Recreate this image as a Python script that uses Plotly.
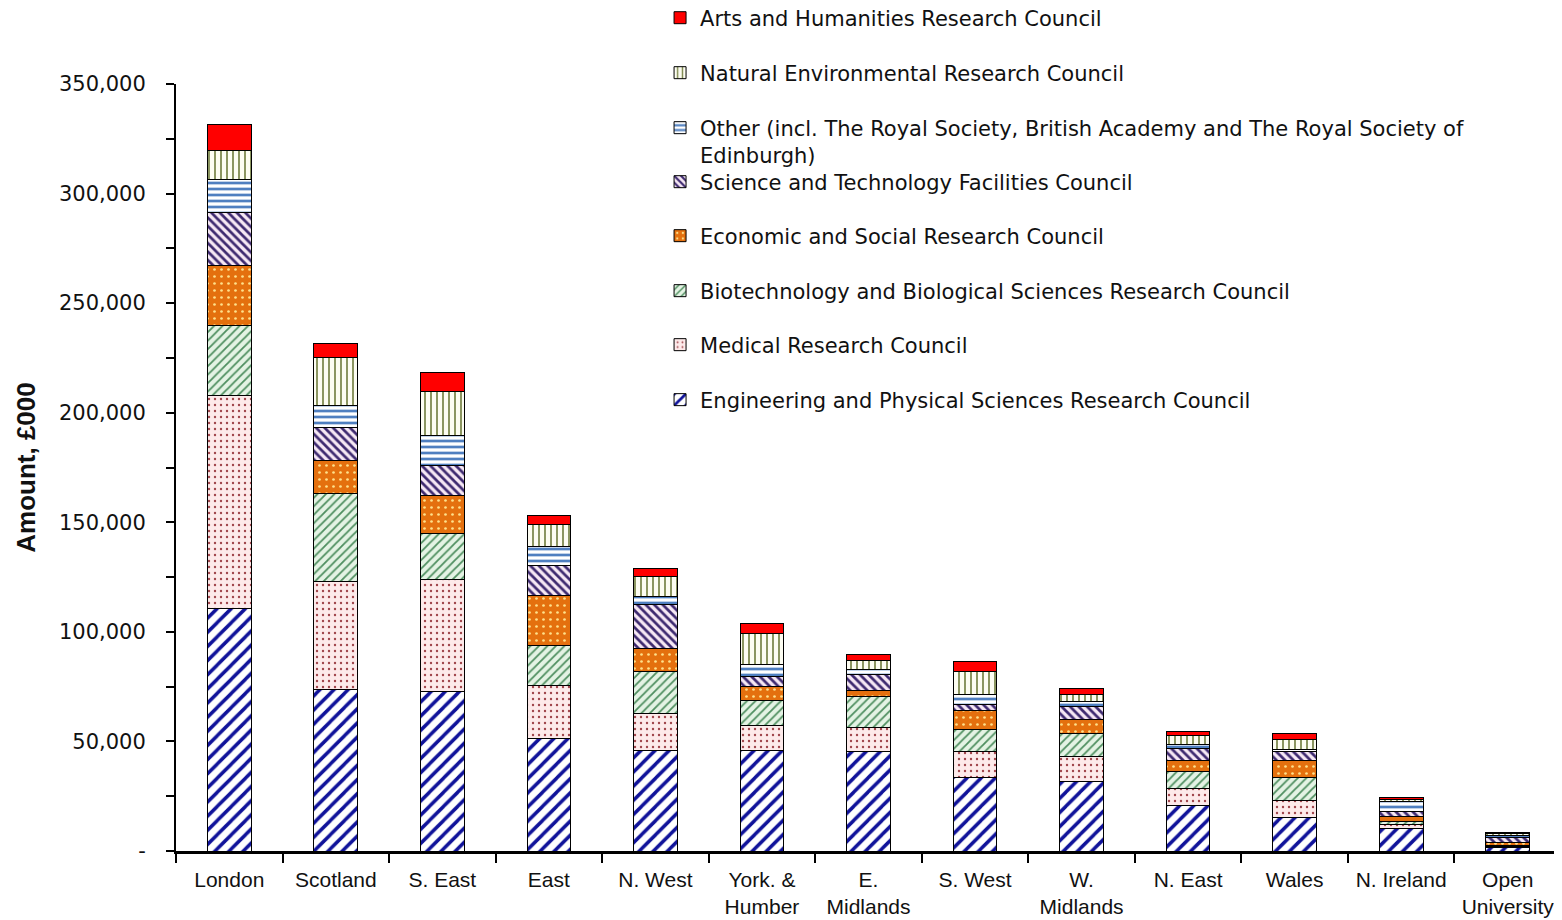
import plotly.graph_objects as go

categories = ["London", "Scotland", "S. East", "East", "N. West", "York. &<br>Humber",
              "E.<br>Midlands", "S. West", "W.<br>Midlands", "N. East", "Wales",
              "N. Ireland", "Open<br>University"]

epsrc = [110500, 73500, 73000, 51500, 46000, 46000, 45500, 33600, 31800, 20700, 15400, 10400, 1800]
mrc = [97500, 49500, 50800, 24200, 16800, 11200, 10700, 11700, 11300, 7600, 7600, 1500, 300]
bbsrc = [32000, 40000, 21000, 18300, 19300, 11400, 14100, 10200, 10700, 8200, 10600, 1500, 500]
esrc = [27000, 15400, 17300, 22800, 10100, 6400, 3100, 8800, 6100, 5000, 7600, 2300, 1200]
stfc = [24500, 14900, 14000, 13300, 20400, 4500, 7100, 2600, 6100, 5400, 4100, 2200, 2500]
other = [15000, 10200, 13500, 8800, 3500, 5400, 2300, 4700, 2000, 1500, 800, 4700, 1000]
nerc = [13000, 21500, 20300, 10200, 9100, 14400, 4200, 10500, 3600, 4100, 4600, 800, 800]
ahrc = [12000, 6800, 8400, 4200, 3800, 4300, 2600, 4300, 2400, 1900, 3000, 1000, 300]

y_tickvals = [0, 50000, 100000, 150000, 200000, 250000, 300000, 350000]
y_ticktext = ["-", "50,000", "100,000", "150,000", "200,000", "250,000", "300,000", "350,000"]

series = [
    ("Engineering and Physical Sciences Research Council", epsrc,
     dict(shape="/", fgcolor="#10139a", bgcolor="#ffffff", size=10, solidity=0.35), 0.5880),
    ("Medical Research Council", mrc,
     dict(shape=".", fgcolor="#a0444a", bgcolor="#fdeaea", size=6, solidity=0.12), 0.6597),
    ("Biotechnology and Biological Sciences Research Council", bbsrc,
     dict(shape="/", fgcolor="#4f8f60", bgcolor="#e4f3e4", size=6, solidity=0.3), 0.7301),
    ("Economic and Social Research Council", esrc,
     dict(shape=".", fgcolor="#ffe08a", bgcolor="#e4700e", size=7, solidity=0.12), 0.8018),
    ("Science and Technology Facilities Council", stfc,
     dict(shape="\\", fgcolor="#3e2a70", bgcolor="#f6e8f4", size=6, solidity=0.45), 0.8722),
    ("Other (incl. The Royal Society, British Academy and The Royal Society of<br>Edinburgh)", other,
     dict(shape="-", fgcolor="#4f7fc0", bgcolor="#ffffff", size=6, solidity=0.45), 0.9250),
    ("Natural Environmental Research Council", nerc,
     dict(shape="|", fgcolor="#7f8a50", bgcolor="#fdfdf2", size=6, solidity=0.3), 1.0143),
    ("Arts and Humanities Research Council", ahrc,
     dict(shape="", fgcolor="#ff0000", bgcolor="#ff0000"), 1.0860),
]

fig = go.Figure()
layout_legends = {}
for i, (name, vals, pat, ly) in enumerate(series):
    lname = "legend" if i == 0 else f"legend{i+1}"
    marker = dict(color=pat["bgcolor"], line=dict(color="#000000", width=1))
    if pat["shape"]:
        marker["pattern"] = dict(shape=pat["shape"], fgcolor=pat["fgcolor"], bgcolor=pat["bgcolor"],
                                 size=pat["size"], solidity=pat["solidity"], fillmode="replace")
    fig.add_trace(go.Bar(x=categories, y=vals, name=name, marker=marker, width=0.41,
                         legend=lname))
    layout_legends[lname] = dict(
        x=0.3495, xref="paper", xanchor="left",
        y=ly, yref="paper", yanchor="middle",
        bgcolor="rgba(0,0,0,0)", valign="top",
        font=dict(family="DejaVu Sans, Liberation Sans, Arial", size=21, color="#111111"),
    )

fig.update_layout(
    barmode="stack",
    width=1554, height=912,
    margin=dict(l=168, r=1, t=76, b=69, autoexpand=False),
    paper_bgcolor="white", plot_bgcolor="white",
    showlegend=True,
    **layout_legends,
)

fig.update_xaxes(
    type="category", range=[-0.5, 12.5], automargin=False,
    showline=True, linecolor="black", linewidth=2.5,
    ticks="outside", tickson="boundaries", ticklen=9, tickwidth=2, tickcolor="black",
    tickangle=0,
    tickfont=dict(family="Liberation Sans, Arial", size=21, color="#111111"),
    ticklabelstandoff=8,
    showgrid=False, zeroline=False,
)
fig.update_yaxes(
    range=[0, 350000], automargin=False,
    tickvals=y_tickvals, ticktext=y_ticktext,
    showline=True, linecolor="black", linewidth=2,
    ticks="outside", ticklen=8, tickwidth=1.5, tickcolor="black",
    minor=dict(ticks="outside", ticklen=8, tickwidth=1.5, tickcolor="black", dtick=25000, showgrid=False),
    tickfont=dict(family="DejaVu Sans, Liberation Sans, Arial", size=21, color="#111111"),
    ticklabelstandoff=16,
    showgrid=False, zeroline=False,
    title=dict(text="<b>Amount, £000</b>", standoff=16,
               font=dict(family="Liberation Sans Narrow, Liberation Sans, Arial", size=26, color="#111111")),
)

fig.write_html("out.html")
